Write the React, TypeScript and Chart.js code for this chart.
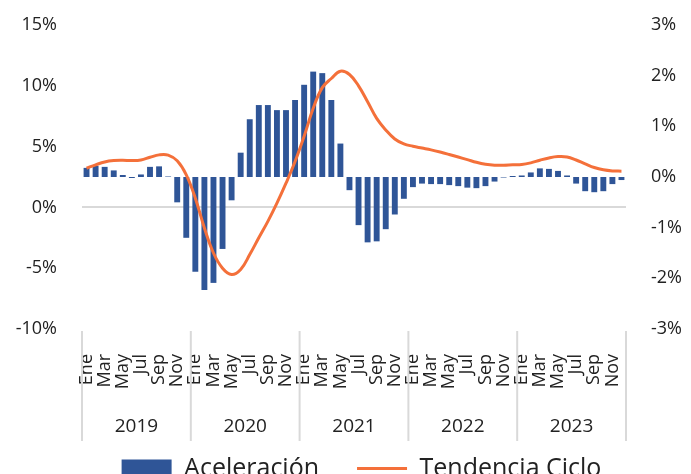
import React, { useEffect, useRef } from 'react';
import { Chart, registerables } from 'chart.js';

Chart.register(...registerables);

const years = ['2019', '2020', '2021', '2022', '2023'];
const months = ['Ene', 'Feb', 'Mar', 'Abr', 'May', 'Jun', 'Jul', 'Ago', 'Sep', 'Oct', 'Nov', 'Dic'];

// Aceleración (eje derecho, %)
const aceleracion = [
  0.18, 0.22, 0.20, 0.13, 0.04, -0.02, 0.05, 0.20, 0.21, 0.01, -0.50, -1.20,
  -1.87, -2.23, -2.09, -1.42, -0.46, 0.48, 1.14, 1.42, 1.42, 1.32, 1.32, 1.52,
  1.82, 2.08, 2.05, 1.52, 0.66, -0.26, -0.95, -1.29, -1.27, -1.03, -0.74, -0.43,
  -0.20, -0.13, -0.14, -0.14, -0.16, -0.18, -0.21, -0.22, -0.18, -0.09, -0.01, 0.02,
  0.03, 0.09, 0.17, 0.16, 0.12, 0.03, -0.13, -0.28, -0.30, -0.28, -0.14, -0.06,
];

// Tendencia Ciclo (eje izquierdo, %)
const tendencia = [
  3.22, 3.5, 3.74, 3.85, 3.87, 3.85, 3.9, 4.12, 4.32, 4.3, 3.83, 2.68,
  0.76, -1.7, -3.75, -5.0, -5.52, -5.1, -3.88, -2.5, -1.15, 0.35, 1.99, 3.77,
  5.85, 8.15, 9.85, 10.6, 11.2, 10.93, 10.0, 8.69, 7.32, 6.37, 5.63, 5.22,
  5.03, 4.88, 4.73, 4.55, 4.35, 4.14, 3.93, 3.71, 3.55, 3.47, 3.47, 3.5,
  3.52, 3.66, 3.88, 4.07, 4.18, 4.15, 3.9, 3.58, 3.28, 3.09, 3.0, 2.98,
];

const leftRange = { min: -10, max: 15, step: 5 };
const rightRange = { min: -3, max: 3, step: 1 };

const FONT = "'Open Sans', sans-serif";
const TEXT = '#222222';
const GRID = '#d9d9d9';
const CLEAR = 'rgba(0,0,0,0)';

const categories: string[] = [];
years.forEach((y) => months.forEach((m) => categories.push(m + ' ' + y)));

const yearPlugin = {
  id: 'yearGroups',
  afterLayout(chart: any) {
    const lg = chart.legend;
    if (lg) {
      lg.left += 32;
      lg.top += 3;
      lg.bottom += 3;
    }
  },
  afterDraw(chart: any) {
    const x = chart.scales.x;
    const area = chart.chartArea;
    const ctx = chart.ctx;
    const half = (x.getPixelForValue(1) - x.getPixelForValue(0)) / 2;
    const bounds: number[] = [];
    for (let k = 0; k <= years.length; k++) {
      bounds.push(k < years.length ? x.getPixelForValue(k * 12) - half : x.getPixelForValue(years.length * 12 - 1) + half);
    }
    ctx.save();
    ctx.strokeStyle = GRID;
    ctx.lineWidth = 2;
    bounds.forEach((b) => {
      ctx.beginPath();
      ctx.moveTo(b, area.bottom + 2);
      ctx.lineTo(b, area.bottom + 112);
      ctx.stroke();
    });
    ctx.fillStyle = TEXT;
    ctx.font = `19px ${FONT}`;
    ctx.textAlign = 'center';
    ctx.textBaseline = 'middle';
    years.forEach((y, i) => {
      ctx.fillText(y, (bounds[i] + bounds[i + 1]) / 2, area.bottom + 98);
    });
    ctx.restore();
  },
};

export default function App() {
  const ref = useRef<HTMLCanvasElement>(null);

  useEffect(() => {
    document.body.style.margin = '0';
    const canvas = ref.current!;
    const chart = new Chart(canvas, {
      type: 'bar',
      data: {
        labels: categories,
        datasets: [
          {
            type: 'bar',
            label: 'Aceleración',
            data: aceleracion,
            yAxisID: 'y1',
            backgroundColor: '#2f5597',
            borderWidth: 0,
            barPercentage: 0.65,
            categoryPercentage: 1,
            pointStyle: 'rect',
            order: 1,
          } as any,
          {
            type: 'line',
            label: 'Tendencia Ciclo',
            data: tendencia,
            yAxisID: 'y',
            borderColor: '#f4703a',
            backgroundColor: '#f4703a',
            borderWidth: 3,
            pointRadius: 0,
            tension: 0.4,
            pointStyle: 'line',
            order: 0,
          } as any,
        ],
      },
      options: {
        responsive: false,
        animation: false,
        devicePixelRatio: 1,
        layout: { padding: { left: 0, right: 0, top: 25, bottom: 0 } },
        plugins: {
          tooltip: { enabled: false },
          legend: {
            position: 'bottom',
            labels: {
              usePointStyle: true,
              pointStyleWidth: 50,
              boxHeight: 18,
              padding: 38,
              color: TEXT,
              font: { family: FONT, size: 25 },
              sort: (a: any, b: any) => a.datasetIndex - b.datasetIndex,
            },
          },
        },
        scales: {
          x: {
            grid: { display: false, drawTicks: false },
            border: { display: false },
            afterFit: (s: any) => {
              s.height = 86;
            },
            ticks: {
              autoSkip: false,
              minRotation: 90,
              maxRotation: 90,
              padding: 25,
              color: TEXT,
              font: { family: FONT, size: 18 },
              callback: (_v: any, i: number) => (i % 2 === 0 ? months[i % 12] : ''),
            },
          },
          y: {
            position: 'left',
            min: leftRange.min,
            max: leftRange.max,
            afterFit: (s: any) => {
              s.width = 82;
            },
            grid: {
              drawTicks: true,
              tickLength: 25,
              tickColor: CLEAR,
              lineWidth: 2,
              color: (c: any) => (c.tick && c.tick.value === 0 ? GRID : CLEAR),
            },
            border: { display: false },
            ticks: {
              stepSize: leftRange.step,
              padding: 0,
              color: TEXT,
              font: { family: FONT, size: 18 },
              callback: (v: any) => v + '%',
            },
          },
          y1: {
            position: 'right',
            min: rightRange.min,
            max: rightRange.max,
            afterFit: (s: any) => {
              s.width = 65;
            },
            grid: { display: false, drawTicks: true, tickLength: 25, tickColor: CLEAR },
            border: { display: false },
            ticks: {
              stepSize: rightRange.step,
              padding: 0,
              color: TEXT,
              font: { family: FONT, size: 18 },
              callback: (v: any) => v + '%',
            },
          },
        },
      },
      plugins: [yearPlugin],
    });
    return () => chart.destroy();
  }, []);

  return (
    <div style={{ width: 691, height: 474, overflow: 'hidden', position: 'relative' }}>
      <canvas ref={ref} width={691} height={488} style={{ width: 691, height: 488, display: 'block' }} />
    </div>
  );
}
